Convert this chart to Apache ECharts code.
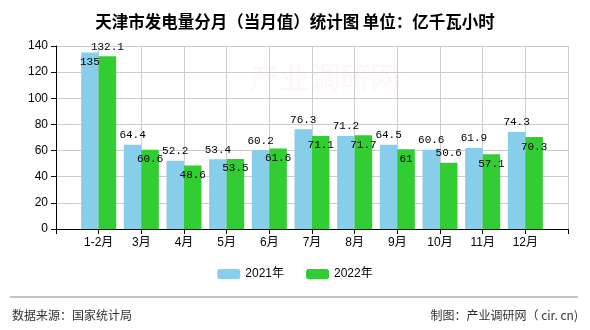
<!DOCTYPE html>
<html><head><meta charset="utf-8">
<script src="https://cdn.jsdelivr.net/npm/echarts@6/dist/echarts.min.js"></script>
<style>html,body{margin:0;padding:0;background:#fff}#c{width:590px;height:330px}</style>
</head><body><div id="c"></div>
<script>
const categories = ['1-2月','3月','4月','5月','6月','7月','8月','9月','10月','11月','12月'];
const values2021 = [135,64.4,52.2,53.4,60.2,76.3,71.2,64.5,60.6,61.9,74.3];
const values2022 = [132.1,60.6,48.6,53.5,61.6,71.1,71.7,61,50.6,57.1,70.3];
const seriesNames = ['2021年','2022年'];

const chart = echarts.init(document.getElementById('c'));
const xData = [''].concat(categories, ['']);
const labelFont = {fontFamily:'Liberation Mono, DejaVu Sans Mono, monospace', fontSize:11, color:'#000'};
function build(vals, defPos, overrides){
  const out = ['-'];
  vals.forEach((v,i)=>{
    const pos = overrides[i] || defPos;
    out.push({value:v, label:{position:pos}});
  });
  out.push('-');
  return out;
}
const d2021 = build(values2021,'top',{0:'insideTop'});
const d2022 = build(values2022,'insideTop',{0:'top',8:'top'});

chart.setOption({
  animation:false,
  title:{text:'天津市发电量分月（当月值）统计图 单位：亿千瓦小时', left:'center', top:8,
    textStyle:{fontSize:16.5, fontWeight:'bold', color:'#000', fontFamily:'Noto Sans CJK SC'}},
  legend:{data:seriesNames, bottom:45, left:'center', itemWidth:23, itemHeight:10, itemGap:22,
    textStyle:{fontSize:12, color:'#000', fontFamily:'Liberation Sans, Noto Sans CJK SC'}},
  grid:{left:56, right:22, top:46, bottom:101},
  xAxis:{type:'category', data:xData, boundaryGap:false,
    axisLine:{lineStyle:{color:'#000'}}, axisTick:{show:true, lineStyle:{color:'#000'}},
    axisLabel:{color:'#000', fontSize:12, fontFamily:'Liberation Sans, Noto Sans CJK SC', interval:0, margin:8},
    splitLine:{show:true, lineStyle:{color:'#ccc'}}},
  yAxis:{type:'value', min:0, max:140, interval:20,
    axisLine:{show:true, lineStyle:{color:'#000'}}, axisTick:{show:true, lineStyle:{color:'#000'}},
    axisLabel:{color:'#000', fontSize:12, fontFamily:'Liberation Sans'},
    splitLine:{lineStyle:{color:'#ccc'}}},
  series:[
    {name:seriesNames[0], type:'bar', data:d2021, barWidth:17.5, barGap:'0%',
      itemStyle:{color:'#87CEEB'}, label:Object.assign({show:true, distance:4}, labelFont)},
    {name:seriesNames[1], type:'bar', data:d2022, barWidth:17.5, barGap:'0%',
      itemStyle:{color:'#32CD32'}, label:Object.assign({show:true, distance:4}, labelFont)}
  ],
  graphic:[
    {type:'line', shape:{x1:10,y1:297,x2:578,y2:297}, style:{stroke:'#888', lineWidth:1}},
    {type:'text', left:12, top:309, style:{text:'数据来源：国家统计局', fontSize:12, fill:'#333', fontFamily:'Noto Sans CJK SC'}},
    {type:'text', right:12, top:309, style:{text:'制图：产业调研网（ cir. cn)', fontSize:12, fill:'#333', fontFamily:'Noto Sans CJK SC'}},
    {type:'text', left:250, top:62, z:-1, style:{text:'产业调研网', fontSize:30, fill:'rgba(230,120,100,0.06)', fontFamily:'Noto Sans CJK SC'}}
  ]
});
</script></body></html>
